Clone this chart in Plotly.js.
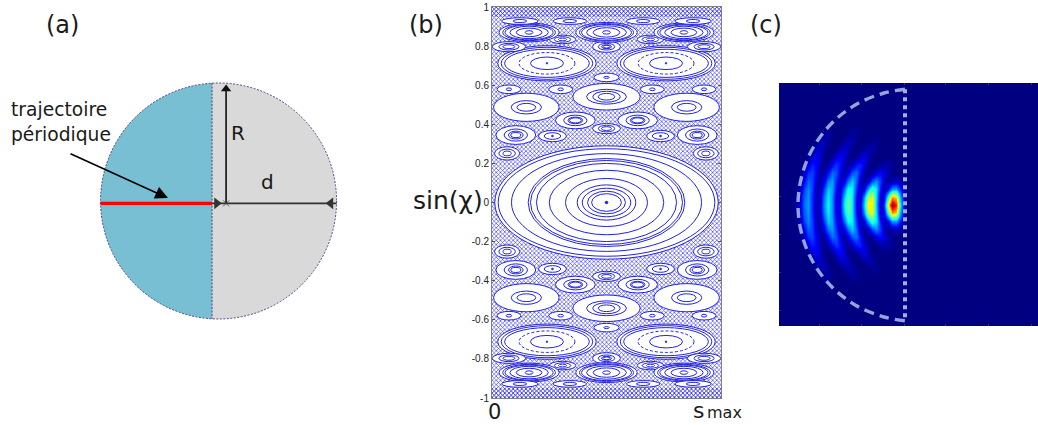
<!DOCTYPE html>
<html><head><meta charset="utf-8">
<script src="https://cdn.plot.ly/plotly-3.0.1.min.js"></script>
<style>html,body{margin:0;padding:0;background:#fff}</style></head>
<body><div id="chart" style="width:1038px;height:425px"></div>
<script>
// ---------- panel (b): islands of the Poincare section (s offset from centre, sin chi, rings [a,b,dashed])
const islandOffset = [0, .26, 0, .35, .136, .396, .236, 0, .434, 0, .2, .426, 0, .192, .426, 0, .338, .16, .378];
const islandSin    = [0, .712, .541, .487, .42, .345, .34, .378, .251, .64, .579, .579, .797, .834, .797, .87, .87, .928, .928];
const islandRings  = [
 [[.488,.29],[.473,.275],[.415,.25],[.342,.225],[.332,.215],[.306,.2],[.25,.165],[.179,.123],[.128,.09],[.106,.073],[.083,.058],[.065,.045],[.006,.006]],
 [[.215,.09],[.2,.082],[.185,.072],[.122,.055,1],[.072,.032],[.003,.004]],
 [[.147,.068],[.087,.038],[.06,.028],[.036,.017]],
 [[.143,.072],[.066,.034],[.041,.02]],
 [[.087,.043],[.051,.027],[.032,.017],[.026,.013]],
 [[.087,.048],[.051,.031],[.032,.02],[.022,.013]],
 [[.061,.029],[.036,.017],[.004,.004]],
 [[.061,.026],[.036,.017],[.022,.01]],
 [[.055,.034],[.036,.022],[.018,.012]],
 [[.055,.022],[.012,.005]],
 [[.052,.022],[.012,.007]],
 [[.052,.022],[.012,.007]],
 [[.061,.029],[.036,.017],[.022,.01],[.015,.007]],
 [[.058,.022],[.036,.014],[.018,.007]],
 [[.073,.026],[.044,.017],[.026,.01]],
 [[.134,.051],[.118,.045],[.109,.041],[.087,.034],[.058,.024],[.017,.009]],
 [[.131,.048],[.115,.042],[.105,.038],[.084,.032],[.056,.022],[.017,.009]],
 [[.073,.017],[.03,.008]],
 [[.08,.017],[.03,.008]]
];
const sinTicks = [-1,-.8,-.6,-.4,-.2,0,.2,.4,.6,.8,1];
const sinLabels = ['-1','-0.8','-0.6','-0.4','-0.2','0','0.2','0.4','0.6','0.8','1'];
const seaBase = [-1,-1,.95];
const seaHeight = [2,.05,.05];

// ---------- panel (c): field intensity, half of the symmetric map
const fieldX = [17,21,25,29,33,37,41,45,49,53,57,61,65,69,73,77,81,85,89,93,97,101,105,109,113,117,121,125];
const fieldDy = [0,8,16,24,32,40,48,56,64,72,80];
const fieldRows = [
 [.025,.08,.215,.265,.15,.04,.07,.25,.36,.25,.08,.10,.34,.48,.34,.11,.07,.32,.625,.625,.31,.05,.16,.60,.98,.835,.36,.07],
 [.02,.07,.20,.255,.15,.04,.065,.23,.345,.25,.08,.09,.30,.45,.34,.12,.05,.25,.54,.58,.33,.07,.10,.40,.70,.65,.29,.06],
 [.01,.05,.17,.243,.17,.05,.04,.17,.31,.27,.11,.07,.205,.38,.35,.16,.05,.08,.28,.43,.34,.13,.03,.11,.26,.27,.14,.035],
 [.005,.03,.11,.205,.175,.07,.03,.09,.225,.265,.15,.05,.08,.225,.31,.21,.06,.015,.06,.18,.25,.17,.05,.015,.035,.056,.035,.01],
 [0,.01,.06,.15,.175,.10,.025,.025,.115,.215,.19,.08,.02,.085,.19,.22,.12,.03,.01,.025,.08,.115,.085,.03,.01,0,0,0],
 [0,0,.025,.08,.135,.11,.04,.01,.03,.11,.165,.12,.045,.015,.055,.125,.145,.08,.02,0,0,.02,.037,.037,.02,0,0,0],
 [0,0,0,.015,.065,.105,.06,.01,0,.015,.07,.115,.07,.015,0,.015,.06,.085,.045,.01,0,0,0,0,0,0,0,0],
 [0,0,0,0,.015,.055,.07,.03,.005,0,.01,.04,.075,.05,.012,0,.005,.02,.045,.035,.01,0,0,0,0,0,0,0],
 [0,0,0,0,0,.013,.04,.05,.02,0,0,0,.02,.045,.035,.01,0,0,0,.015,.02,.008,0,0,0,0,0,0],
 [0,0,0,0,0,0,0,.025,.03,.01,0,0,0,0,.025,.025,.005,0,0,0,0,0,0,0,0,0,0,0],
 [0,0,0,0,0,0,0,0,0,0,0,0,0,0,0,0,0,0,0,0,0,0,0,0,0,0,0,0]
];
const billiardArcX = [126,105,77,53,34.5,23,19,23,34.5,53,77,105,126];
const billiardArcY = [115.7,112,100.5,82,58,30,0,-30,-58,-82,-100.5,-112,-115.7];
const billiardCutX = [126,126];
const billiardCutY = [115.7,-115.7];

// ---------- panel (a): half-disc outline in units of R, trajectory, R and d arrows
const halfDiscX = [-.055,-.259,-.5,-.707,-.866,-.966,-1,-.966,-.866,-.707,-.5,-.259,-.055];
const halfDiscY = [.998,.966,.866,.707,.5,.259,0,-.259,-.5,-.707,-.866,-.966,-.998];
const cutX = [-.055,-.055];
const cutY = [1,-1];
const orbitX = [-1,-.055];
const orbitY = [-.02,-.02];
const radiusX = [.064,.064];
const radiusY = [-.02,.95];
const distX = [-.055,1];
const distY = [-.02,-.02];

const W = 1038, H = 425;
const xd = (a,b)=>[a/W,b/W];
const yd = (top,bot)=>[1-bot/H,1-top/H];
const blue = '#2222dd';

const shapes = [];
shapes.push({type:'circle',xref:'x',yref:'y',x0:-1,x1:1,y0:-1,y1:1,layer:'below',fillcolor:'#d9d9d9',line:{width:0}});
shapes.push({type:'circle',xref:'x',yref:'y',x0:-1,x1:1,y0:-1,y1:1,layer:'above',line:{color:'#4a4a86',width:1,dash:'2px,1.5px'}});
islandRings.forEach((rings,i)=>{
  const dxs = islandOffset[i]===0 ? [0] : [-islandOffset[i],islandOffset[i]];
  const dys = islandSin[i]===0 ? [0] : [-islandSin[i],islandSin[i]];
  dxs.forEach(dx=>dys.forEach(dy=>{
    rings.forEach((r,j)=>{
      shapes.push({type:'circle',xref:'x2',yref:'y2',layer:'above',
        x0:.5+dx-r[0],x1:.5+dx+r[0],y0:dy-r[1],y1:dy+r[1],
        fillcolor:j===0?'#ffffff':(r[0]<.007?blue:'rgba(0,0,0,0)'),
        line:{color:blue,width:1,dash:r[2]?'3px,2px':'solid'}});
    });
  }));
});
shapes.push({type:'rect',xref:'x3 domain',yref:'y3 domain',x0:0,x1:1,y0:0,y1:1,layer:'below',fillcolor:'#000080',line:{width:0}});

const note = (x,y,text,size,extra)=>Object.assign({xref:'paper',yref:'paper',x:x/W,y:1-y/H,text,showarrow:false,xanchor:'center',yanchor:'middle',font:{family:'DejaVu Sans',size,color:'#1a1a1a'}},extra||{});

const annotations = [
  note(62,25,'(a)',24), note(426,25,'(b)',24), note(766,25,'(c)',24),
  note(58.5,110,'trajectoire',18.7), note(61,134,'périodique',18.7),
  note(238,133,'R',20), note(267,182,'d',20),
  note(448,200,'sin(χ)',25),
  note(494,412,'0',21),
  note(698,410,'s',22),
  note(724,412,'max',16),
  {xref:'x',yref:'y',axref:'x',ayref:'y',x:-.428,y:.025,ax:-1.267,ay:.407,text:'',showarrow:true,arrowhead:2,arrowsize:1.6,arrowwidth:1.6,arrowcolor:'#000'}
];

const data = [
  {type:'scatter',xaxis:'x',yaxis:'y',x:halfDiscX,y:halfDiscY,mode:'lines',line:{shape:'spline',width:0},fill:'toself',fillcolor:'#78bfd4'},
  {type:'scatter',xaxis:'x',yaxis:'y',x:cutX,y:cutY,mode:'lines',line:{color:'#4a4a86',width:1,dash:'2px,1.5px'}},
  {type:'scatter',xaxis:'x',yaxis:'y',x:orbitX,y:orbitY,mode:'lines',line:{color:'#ff0000',width:3.4}},
  {type:'scatter',xaxis:'x',yaxis:'y',x:distX,y:distY,mode:'lines',line:{color:'#333',width:1.6}},
  {type:'scatter',xaxis:'x',yaxis:'y',x:radiusX,y:radiusY,mode:'lines',line:{color:'#111',width:1.6}},
  {type:'scatter',xaxis:'x',yaxis:'y',x:[.064],y:[.95],mode:'markers',marker:{symbol:'triangle-up',size:9,color:'#111',line:{width:0}}},
  {type:'scatter',xaxis:'x',yaxis:'y',x:[-.015],y:[-.02],mode:'markers',marker:{symbol:'triangle-right',size:10,color:'#333',line:{width:0}}},
  {type:'scatter',xaxis:'x',yaxis:'y',x:[.95],y:[-.02],mode:'markers',marker:{symbol:'triangle-left',size:10,color:'#333',line:{width:0}}},
  {type:'scatter',xaxis:'x',yaxis:'y',x:[.064],y:[-.02],mode:'markers',marker:{symbol:'x-thin',size:6,line:{color:'#444',width:.8}}},
  {type:'bar',xaxis:'x2',yaxis:'y2',x:seaBase.map(()=>.5),y:seaHeight,base:seaBase,width:seaBase.map(()=>1),marker:{color:'rgba(0,0,0,0)',line:{width:0},pattern:{shape:'x',fgcolor:'#2a2ae0',bgcolor:'rgba(255,255,255,0)',size:3,solidity:.36}}},
  {type:'heatmap',xaxis:'x3',yaxis:'y3',x:fieldX,
   y:fieldDy.slice(1).reverse().map(v=>-v).concat(fieldDy),
   z:fieldRows.slice(1).reverse().concat(fieldRows),
   zmin:0,zmax:1,zsmooth:'best',showscale:false,
   colorscale:[[0,'#000080'],[.11,'#0000ff'],[.36,'#00ffff'],[.61,'#ffff00'],[.86,'#ff0000'],[1,'#800000']]},
  {type:'scatter',xaxis:'x3',yaxis:'y3',x:billiardArcX,y:billiardArcY,mode:'lines',line:{shape:'spline',color:'#93a5d8',width:3.4,dash:'10px,6px'}},
  {type:'scatter',xaxis:'x3',yaxis:'y3',x:billiardCutX,y:billiardCutY,mode:'lines',line:{color:'#9fb0de',width:4,dash:'4px,4px'}}
];

const hidden = {visible:false,fixedrange:true};
const layout = {
  width:W,height:H,margin:{l:0,r:0,t:0,b:0},paper_bgcolor:'#fff',plot_bgcolor:'rgba(0,0,0,0)',
  showlegend:false,hovermode:false,barmode:'overlay',
  xaxis:Object.assign({domain:xd(0,346),range:[-1.852,1.08],anchor:'y'},hidden),
  yaxis:Object.assign({domain:yd(60,340),range:[(201-340)/118,(201-60)/118],anchor:'x'},hidden),
  xaxis2:{anchor:'y2',domain:xd(492,721),range:[0,1],showticklabels:false,ticks:'',showgrid:false,zeroline:false,showline:true,mirror:true,linecolor:'#808080',linewidth:1},
  yaxis2:{anchor:'x2',domain:yd(7,398),range:[-1,1],tickmode:'array',tickvals:sinTicks,ticktext:sinLabels,ticks:'inside',ticklen:3,tickcolor:'#555',tickfont:{family:'Liberation Sans',size:10,color:'#222'},showgrid:false,zeroline:false,showline:true,mirror:'ticks',linecolor:'#808080',linewidth:1},
  xaxis3:{anchor:'y3',domain:xd(779,1038),range:[0,259],showticklabels:false,tickmode:'array',tickvals:[40,82,125,166,209,252],ticks:'inside',ticklen:2,tickcolor:'#333366',showgrid:false,zeroline:false,showline:false,mirror:'ticks'},
  yaxis3:{anchor:'x3',domain:yd(83,326),range:[-121,122],showticklabels:false,tickmode:'array',tickvals:[-105,-67,-29,9],ticks:'inside',ticklen:2,tickcolor:'#333366',showgrid:false,zeroline:false,showline:false},
  shapes,annotations
};
Plotly.newPlot('chart',data,layout,{staticPlot:true,displayModeBar:false});
</script></body></html>
